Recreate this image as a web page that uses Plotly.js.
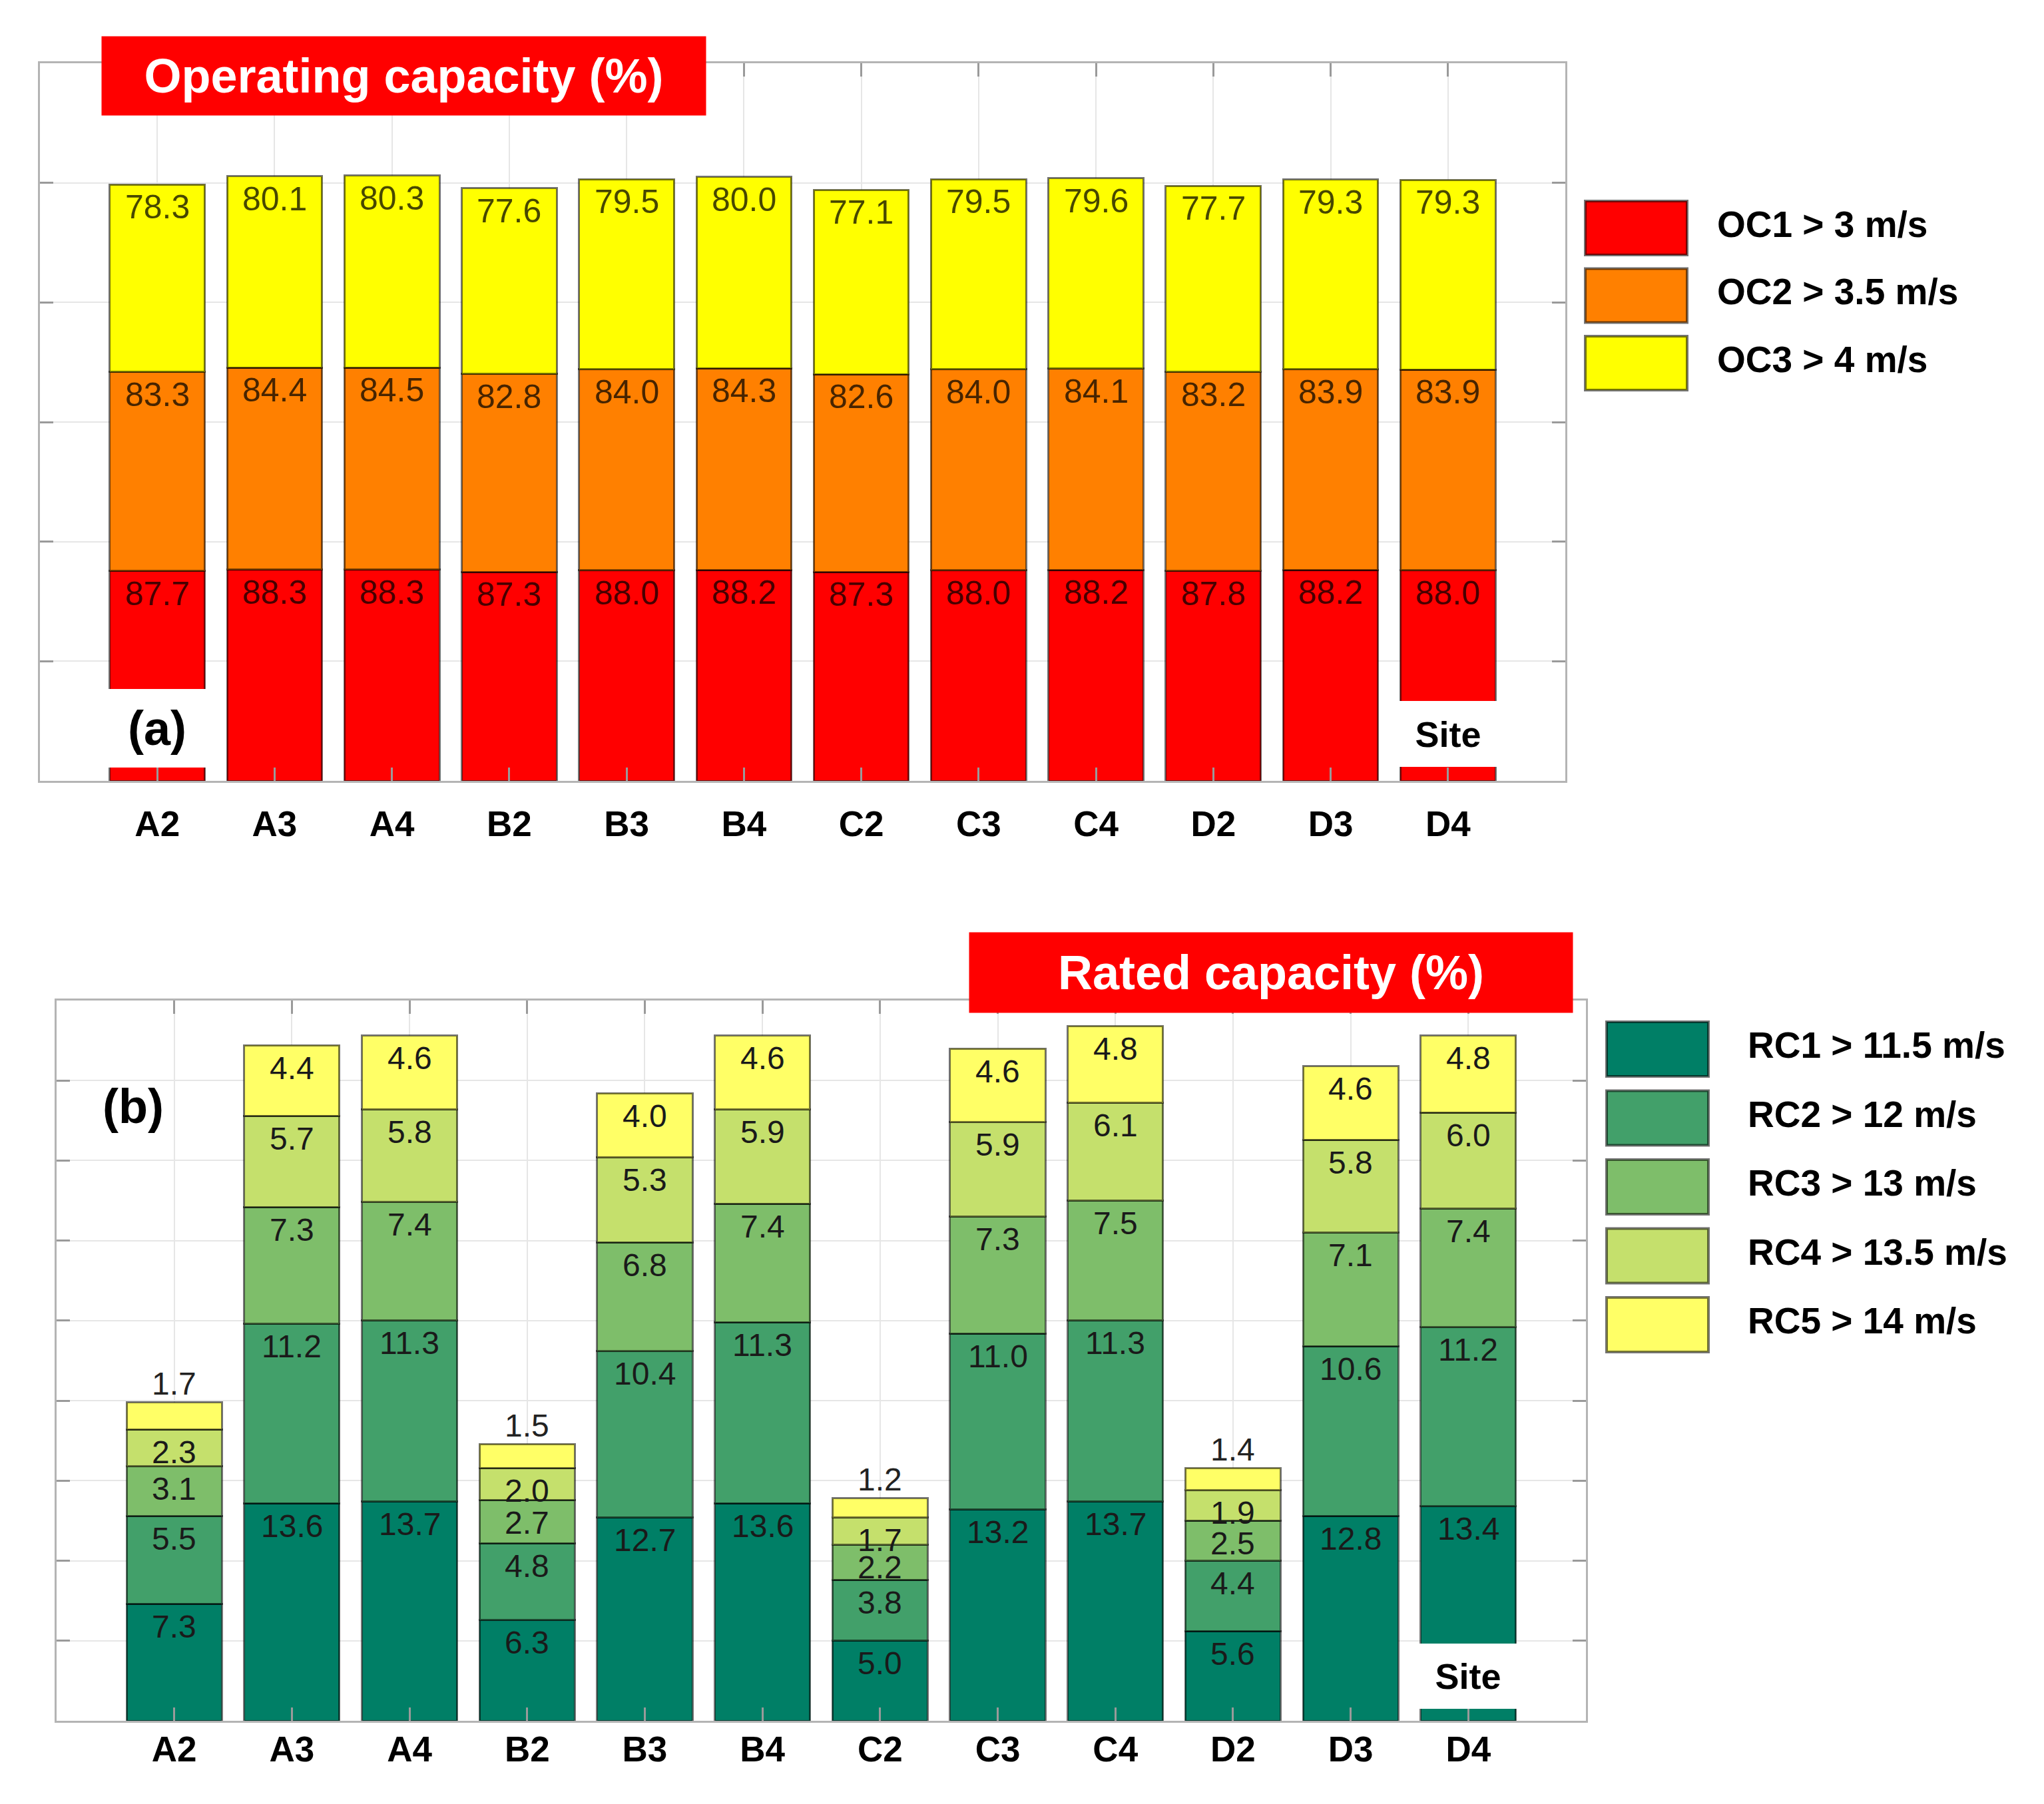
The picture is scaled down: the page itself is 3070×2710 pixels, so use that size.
<!DOCTYPE html>
<html>
<head>
<meta charset="utf-8">
<script src="https://cdn.plot.ly/plotly-3.0.1.min.js"></script>
<style>
    html, body { margin: 0; padding: 0; background: #fff; }
    #chart { width: 3070px; height: 2710px; }
</style>
</head>
<body>
<div id="chart"></div>
<script>
// operating / rated capacity per site, two stacked panels

const sites = ["A2", "A3", "A4", "B2", "B3", "B4", "C2", "C3", "C4", "D2", "D3", "D4"];

const ocNames = ["OC1 > 3 m/s", "OC2 > 3.5 m/s", "OC3 > 4 m/s"];
const oc1 = [87.7, 88.3, 88.3, 87.3, 88.0, 88.2, 87.3, 88.0, 88.2, 87.8, 88.2, 88.0];
const oc2 = [83.3, 84.4, 84.5, 82.8, 84.0, 84.3, 82.6, 84.0, 84.1, 83.2, 83.9, 83.9];
const oc3 = [78.3, 80.1, 80.3, 77.6, 79.5, 80.0, 77.1, 79.5, 79.6, 77.7, 79.3, 79.3];

const rcNames = ["RC1 > 11.5 m/s", "RC2 > 12 m/s", "RC3 > 13 m/s", "RC4 > 13.5 m/s", "RC5 > 14 m/s"];
const rc1 = [7.3, 13.6, 13.7, 6.3, 12.7, 13.6, 5.0, 13.2, 13.7, 5.6, 12.8, 13.4];
const rc2 = [5.5, 11.2, 11.3, 4.8, 10.4, 11.3, 3.8, 11.0, 11.3, 4.4, 10.6, 11.2];
const rc3 = [3.1, 7.3, 7.4, 2.7, 6.8, 7.4, 2.2, 7.3, 7.5, 2.5, 7.1, 7.4];
const rc4 = [2.3, 5.7, 5.8, 2.0, 5.3, 5.9, 1.7, 5.9, 6.1, 1.9, 5.8, 6.0];
const rc5 = [1.7, 4.4, 4.6, 1.5, 4.0, 4.6, 1.2, 4.6, 4.8, 1.4, 4.6, 4.8];

(function () {

    const dom = document.getElementById("chart");
    const W = 3070, H = 2710;
    const px = (x) => x / W;
    const py = (y) => 1 - y / H;

    const FONT = "Liberation Sans, Arial, Helvetica, sans-serif";
    const C = {
        oc: ["#FF0000", "#FF8000", "#FFFF00"],
        rc: ["#007F66", "#42A06A", "#7EBE6A", "#C5E06C", "#FFFF66"],
        edge: "rgba(0,0,0,0.55)",
        grid: "#e6e6e6",
        frame: "#b4b4b4",
        tick: "#9a9a9a",
        red: "#FF0000"
    };

    const ocSeries = [oc1, oc2, oc3];
    const rcSeries = [rc1, rc2, rc3, rc4, rc5];

    const traces = [];
    ocSeries.forEach((vals, i) => {
        traces.push({
            type: "bar", x: sites, y: vals, name: ocNames[i],
            xaxis: "x", yaxis: "y", showlegend: false,
            marker: { color: C.oc[i], line: { color: C.edge, width: 3 } },
            hoverinfo: "skip"
        });
    });
    rcSeries.forEach((vals, i) => {
        traces.push({
            type: "bar", x: sites, y: vals, name: rcNames[i],
            xaxis: "x2", yaxis: "y2", showlegend: false,
            marker: { color: C.rc[i], line: { color: C.edge, width: 3 } },
            hoverinfo: "skip"
        });
    });

    // value labels sit just under the top of each segment;
    // a thin top segment gets its label above the bar
    function valueLabels(series, xref, yref, size, color, liftSmallTop) {
        const out = [];
        sites.forEach((s, j) => {
            let cum = 0;
            series.forEach((vals, i) => {
                cum += vals[j];
                const above = liftSmallTop && i === series.length - 1 && vals[j] < 2;
                out.push({
                    x: s, y: cum, xref: xref, yref: yref,
                    text: vals[j].toFixed(1),
                    showarrow: false,
                    yanchor: "middle",
                    yshift: above ? 28 : -34,
                    font: { family: FONT, size: size, color: above ? "#222" : color }
                });
            });
        });
        return out;
    }

    function whiteTag(text, x, y, xref, yref, h, size) {
        return {
            x: x, y: y, xref: xref, yref: yref,
            text: text, showarrow: false,
            width: 154, height: h,
            bgcolor: "#ffffff", borderpad: 0, borderwidth: 0,
            font: { family: FONT, size: size, color: "#000", weight: "bold" }
        };
    }

    function titleBox(text, x0, y0, x1, y1) {
        return {
            x: px((x0 + x1) / 2), y: py((y0 + y1) / 2),
            xref: "paper", yref: "paper",
            xanchor: "center", yanchor: "middle",
            text: text, showarrow: false,
            width: x1 - x0, height: y1 - y0,
            bgcolor: C.red, borderpad: 0,
            font: { family: FONT, size: 72, color: "#fff", weight: "bold" }
        };
    }

    const shapes = [];
    const legendNotes = [];
    function legend(names, colors, x0, y0, step, sw, sh, textX) {
        names.forEach((n, i) => {
            const top = y0 + i * step;
            shapes.push({
                type: "rect", xref: "paper", yref: "paper",
                x0: px(x0), x1: px(x0 + sw), y0: py(top + sh), y1: py(top),
                fillcolor: colors[i], line: { color: C.edge, width: 4 }
            });
            legendNotes.push({
                x: px(textX), y: py(top + sh / 2 - 6), xref: "paper", yref: "paper",
                xanchor: "left", yanchor: "middle", showarrow: false,
                text: n, font: { family: FONT, size: 55, color: "#000", weight: "bold" }
            });
        });
    }
    legend(ocNames, C.oc, 2381, 302, 101.5, 153, 81, 2577);
    legend(rcNames, C.rc, 2413, 1535, 103.5, 153, 82, 2623);

    function xAxis(domain, anchor, standoff) {
        return {
            domain: domain, anchor: anchor,
            type: "category", range: [-1, 12],
            showline: true, linecolor: C.frame, linewidth: 3, mirror: "ticks",
            ticks: "inside", ticklen: 20, tickwidth: 3, tickcolor: C.tick,
            showgrid: true, gridcolor: C.grid, gridwidth: 2,
            ticklabelstandoff: standoff,
            tickfont: { family: FONT, size: 53, color: "#000", weight: "bold" },
            fixedrange: true
        };
    }
    function yAxis(domain, anchor, top, step) {
        return {
            domain: domain, anchor: anchor,
            range: [0, top], dtick: step, tick0: 0,
            showline: true, linecolor: C.frame, linewidth: 3, mirror: "ticks",
            ticks: "inside", ticklen: 20, tickwidth: 3, tickcolor: C.tick,
            showgrid: true, gridcolor: C.grid, gridwidth: 2,
            zeroline: false, showticklabels: false,
            fixedrange: true
        };
    }

    const annotations = []
        .concat(valueLabels(ocSeries, "x", "y", 50, "rgba(0,0,0,0.72)", false))
        .concat(valueLabels(rcSeries, "x2", "y2", 48, "#1a1a1a", true))
        .concat([
            whiteTag("(a)", "A2", 21.9, "x", "y", 118, 72),
            whiteTag("Site", "D4", 19.6, "x", "y", 99, 54),
            whiteTag("Site", "D4", 2.8, "x2", "y2", 98, 54),
            {
                x: px(200), y: py(1662), xref: "paper", yref: "paper",
                xanchor: "center", yanchor: "middle",
                text: "(b)", showarrow: false,
                font: { family: FONT, size: 72, color: "#000", weight: "bold" }
            },
            titleBox("Operating capacity (%)", 153, 55, 1060, 173),
            titleBox("Rated capacity (%)", 1456, 1401, 2362, 1521)
        ])
        .concat(legendNotes);

    const layout = {
        width: W, height: H,
        margin: { l: 0, r: 0, t: 0, b: 0 },
        paper_bgcolor: "#fff", plot_bgcolor: "#fff",
        font: { family: FONT, color: "#000" },
        barmode: "stack",
        bargap: 0.19,
        xaxis: xAxis([px(60), px(2351)], "y", 16),
        yaxis: yAxis([py(1173), py(95)], "x", 300, 50),
        xaxis2: xAxis([px(85), px(2382)], "y2", -6),
        yaxis2: yAxis([py(2585), py(1503)], "x2", 45, 5),
        shapes: shapes,
        annotations: annotations
    };

    Plotly.newPlot(dom, traces, layout, { displayModeBar: false, staticPlot: true });

})();
</script>
</body>
</html>
